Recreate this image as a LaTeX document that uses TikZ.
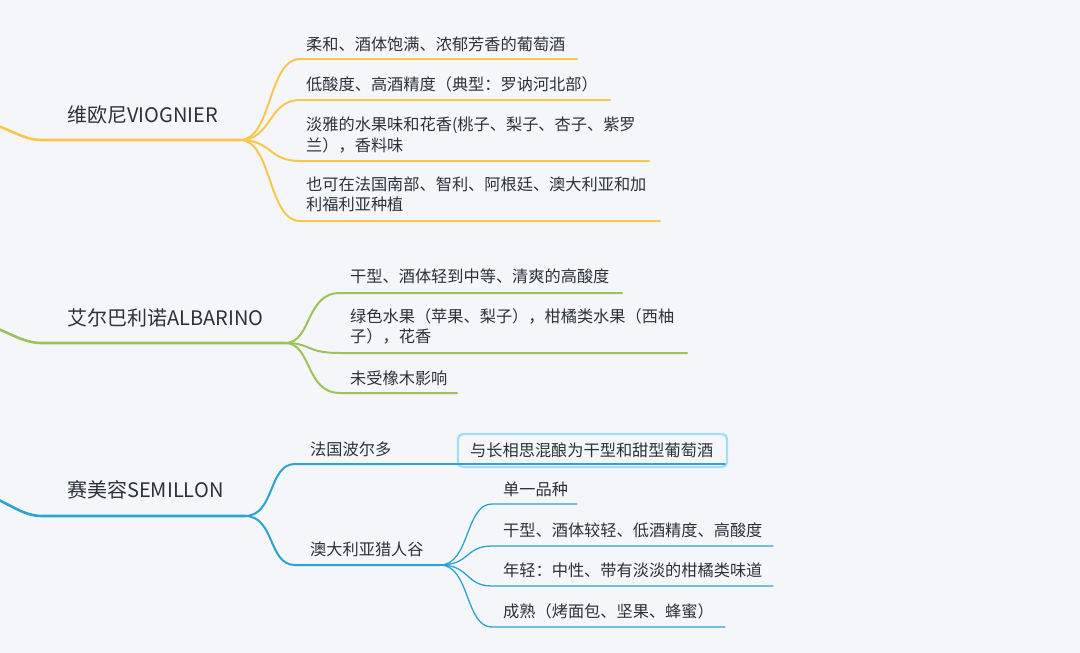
\documentclass[tikz,border=0pt]{standalone}
\usepackage{fontspec}
\setmainfont{Noto Sans CJK SC}
\definecolor{bg}{HTML}{F5F6FA}
\definecolor{ylw}{HTML}{F8C84E}
\definecolor{grn}{HTML}{9CC35B}
\definecolor{blu}{HTML}{2AA5CD}
\definecolor{boxc}{HTML}{A9DDF3}
\definecolor{txt}{HTML}{2B323B}
\tikzset{
  mainlbl/.style={anchor=west,inner sep=0pt,text=txt,font=\fontsize{20}{24}\selectfont},
  leaf/.style={anchor=west,inner sep=0pt,text=txt,align=left,font=\fontsize{16.2}{20.5}\selectfont},
  mainln/.style={line width=2.6pt,line cap=round},
  subln/.style={line width=2pt,line cap=round},
  thinln/.style={line width=1.3pt,line cap=round},
}
\begin{document}
\begin{tikzpicture}[x=1pt,y=-1pt]
\useasboundingbox (0,0) rectangle (1080,653);
\fill[bg] (0,0) rectangle (1080,653);
\begin{scope}
\clip (0,0) rectangle (1080,653);
% ---------- Branch 1: VIOGNIER ----------
\coordinate (y0) at (-20,120);
\coordinate (yA) at (42,140);
\coordinate (yP) at (240,140);
\node[mainlbl] (yL) at (67,115) {维欧尼VIOGNIER};
\draw[ylw,mainln] (y0) .. controls (10,128) and (22,140) .. (yA) -- (yP);
\foreach \yy/\xe/\nm in {59/577/y1,100/610/y2,161/649/y3,221/660/y4}{
  \coordinate (\nm s) at (300,\yy);
  \coordinate (\nm e) at (\xe,\yy);
  \draw[ylw,subln] (yP) .. controls (272,140) and (268,\yy) .. (\nm s) -- (\nm e);
}
\node[leaf] (y1t) at (306,44) {柔和、酒体饱满、浓郁芳香的葡萄酒};
\node[leaf] (y2t) at (306,84) {低酸度、高酒精度（典型：罗讷河北部）};
\node[leaf] (y3t) at (306,135) {淡雅的水果味和花香(桃子、梨子、杏子、紫罗\\兰），香料味};
\node[leaf] (y4t) at (306,194.5) {也可在法国南部、智利、阿根廷、澳大利亚和加\\利福利亚种植};
% ---------- Branch 2: ALBARINO ----------
\coordinate (g0) at (-20,322);
\coordinate (gA) at (42,343);
\coordinate (gP) at (285,343);
\node[mainlbl] (gL) at (67,318) {艾尔巴利诺ALBARINO};
\draw[grn,mainln] (g0) .. controls (10,332) and (22,343) .. (gA) -- (gP);
\foreach \yy/\xe/\nm in {293/622/g1,353/687/g2,393/457/g3}{
  \coordinate (\nm s) at (340,\yy);
  \coordinate (\nm e) at (\xe,\yy);
  \draw[grn,subln] (gP) .. controls (312,343) and (305,\yy) .. (\nm s) -- (\nm e);
}
\node[leaf] (g1t) at (350,276) {干型、酒体轻到中等、清爽的高酸度};
\node[leaf] (g2t) at (350,326.5) {绿色水果（苹果、梨子），柑橘类水果（西柚\\子），花香};
\node[leaf] (g3t) at (350,378) {未受橡木影响};
% ---------- Branch 3: SEMILLON ----------
\coordinate (b0) at (-20,492);
\coordinate (bA) at (42,516);
\coordinate (bP) at (245,516);
\node[mainlbl] (bL) at (67,490) {赛美容SEMILLON};
\draw[blu,mainln] (b0) .. controls (10,503) and (22,516) .. (bA) -- (bP);
\coordinate (f1s) at (295,464);
\coordinate (f1e) at (400,464);
\coordinate (f2s) at (295,565);
\coordinate (f2e) at (440,565);
\draw[blu,subln] (bP) .. controls (275,516) and (268,464) .. (f1s) -- (f1e);
\draw[blu,subln] (bP) .. controls (275,516) and (268,565) .. (f2s) -- (f2e);
\node[leaf] (f1t) at (310,449) {法国波尔多};
\node[leaf] (f2t) at (310,549) {澳大利亚猎人谷};
% box child
\node[draw=boxc,line width=2.4pt,rounded corners=5pt,fill=bg,minimum width=269pt,minimum height=33pt,inner sep=0pt] (bx) at (592.5,450.5) {};
\coordinate (bxs) at (458,464);
\coordinate (bxe) at (725,464);
\draw[blu,thinln] (f1e) -- (bxs) -- (bxe);
\node[leaf] (bxt) at (470,450) {与长相思混酿为干型和甜型葡萄酒};
% sub fan
\foreach \yy/\xe/\nm in {504/577/s1,546/773/s2,586/773/s3,627/725/s4}{
  \coordinate (\nm s) at (492,\yy);
  \coordinate (\nm e) at (\xe,\yy);
  \draw[blu,thinln] (f2e) .. controls (470,565) and (465,\yy) .. (\nm s) -- (\nm e);
}
\node[leaf] (s1t) at (503,489) {单一品种};
\node[leaf] (s2t) at (503,530) {干型、酒体较轻、低酒精度、高酸度};
\node[leaf] (s3t) at (503,570) {年轻：中性、带有淡淡的柑橘类味道};
\node[leaf] (s4t) at (503,611) {成熟（烤面包、坚果、蜂蜜）};
\end{scope}
\end{tikzpicture}
\end{document}
